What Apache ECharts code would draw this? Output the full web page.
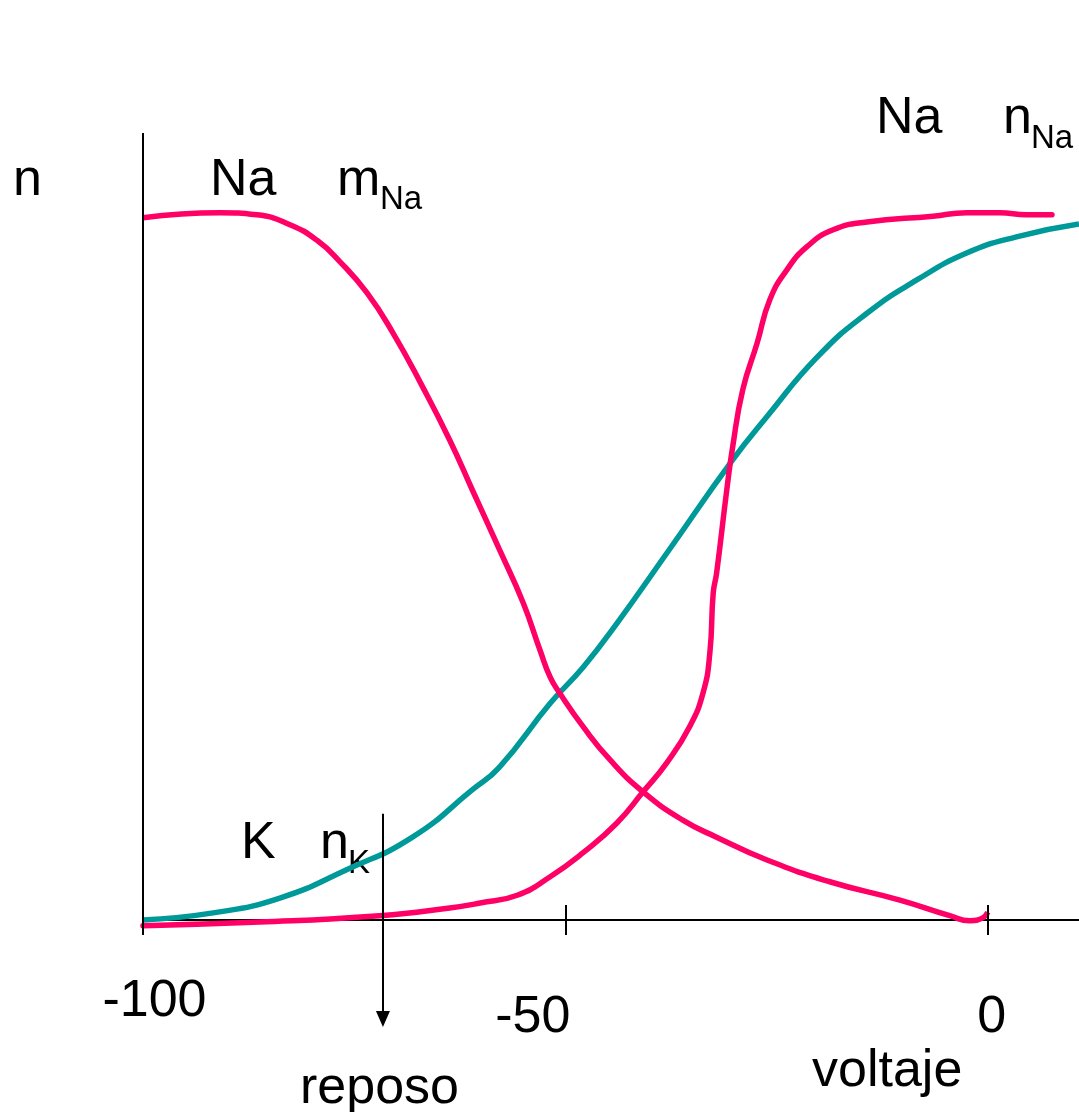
<!DOCTYPE html>
<html>
<head>
<meta charset="utf-8">
<title>n vs voltaje</title>
<script src="https://cdn.jsdelivr.net/npm/echarts@6/dist/echarts.min.js"></script>
<style>
  html, body { margin: 0; padding: 0; background: #fff; }
  #chart { width: 1079px; height: 1112px; }
</style>
</head>
<body>
<div id="chart"></div>
<script>
// valores: voltaje en mV, n entre 0 y 1
var mNaV = [-100, -90.9, -86.5, -82.6, -79.4, -76.7, -73.5, -70.4, -66.9, -63.7, -61.0, -57.8, -55.0, -53.0, -51.8, -50.7, -47.9, -44.7, -40.8, -36.1, -32.1, -26.2, -18.7, -10.4, -4.5, -2.1, -0.6, 0];
var mNaN = [0.992, 0.999, 0.996, 0.982, 0.960, 0.930, 0.886, 0.829, 0.753, 0.678, 0.607, 0.523, 0.448, 0.381, 0.343, 0.321, 0.273, 0.226, 0.181, 0.141, 0.117, 0.085, 0.054, 0.028, 0.006, -0.001, 0.003, 0.011];

var nNaV = [-100, -86.2, -72.0, -63.7, -60.1, -55.7, -51.8, -47.9, -43.9, -40.8, -38.0, -35.3, -33.7, -32.9, -32.5, -32.1, -30.9, -30.2, -29.0, -27.3, -25.8, -23.8, -21.4, -18.3, -14.3, -6.5, -2.5, 1.4, 4.6, 7.6];
var nNaN = [-0.008, -0.003, 0.006, 0.017, 0.024, 0.035, 0.061, 0.095, 0.137, 0.181, 0.222, 0.273, 0.321, 0.377, 0.462, 0.490, 0.607, 0.668, 0.749, 0.815, 0.876, 0.918, 0.951, 0.975, 0.986, 0.994, 0.999, 0.999, 0.996, 0.996];

var nKV = [-100, -91.7, -83.8, -75.9, -68.1, -61.0, -57.8, -51.8, -47.9, -43.9, -38.0, -30.2, -26.2, -20.2, -14.3, -8.4, -2.5, 3.4, 10.8];
var nKN = [0, 0.010, 0.031, 0.071, 0.117, 0.184, 0.216, 0.306, 0.357, 0.419, 0.518, 0.650, 0.710, 0.795, 0.857, 0.904, 0.942, 0.965, 0.983];

var tickLabels = [-100, -50, 0];
var reposo = -71.6;

var PINK = "#ff0066";
var TEAL = "#009999";
var FONT = '"Liberation Sans", Arial, sans-serif';

function zip(xs, ys) {
  return xs.map(function (x, i) { return [x, ys[i]]; });
}

var yMin = -0.1554, yMax = 1.1116;
var tickH = 0.0212;

// ejes dibujados a mano: eje y, marcas del eje x y la flecha de reposo
var guideLines = [[{ coord: [tickLabels[0], -tickH] }, { coord: [tickLabels[0], yMax] }]];
tickLabels.slice(1).forEach(function (v) {
  guideLines.push([{ coord: [v, -tickH] }, { coord: [v, tickH] }]);
});
guideLines.push([
  { coord: [reposo, 0.150] },
  { coord: [reposo, -0.140], symbol: "triangle", symbolSize: [14, 16] }
]);

var chart = echarts.init(document.getElementById("chart"));

var option = {
  animation: false,
  backgroundColor: "#fff",
  grid: { left: 143, right: 0, top: 133, bottom: 82, outerBoundsMode: "none" },
  xAxis: {
    type: "value",
    min: -100,
    max: 10.8,
    interval: 50,
    axisLine: { onZero: true, lineStyle: { color: "#000", width: 2 } },
    axisTick: { show: false },
    splitLine: { show: false },
    axisLabel: {
      margin: -54,
      formatter: function (v) {
        if (v === -100) return "{lo|-100}";
        if (v === -50) return "{mid|-50}";
        if (v === 0) return "{zero|0}";
        return "";
      },
      rich: {
        lo: { fontSize: 52, fontFamily: FONT, color: "#000", padding: [0, 0, 0, 23] },
        mid: { fontSize: 52, fontFamily: FONT, color: "#000", padding: [16, 65, 0, 0] },
        zero: { fontSize: 52, fontFamily: FONT, color: "#000", padding: [16, 0, 0, 8] }
      }
    }
  },
  yAxis: {
    type: "value",
    min: yMin,
    max: yMax,
    axisLine: { show: false },
    axisTick: { show: false },
    axisLabel: { show: false },
    splitLine: { show: false }
  },
  series: [
    {
      name: "nK",
      type: "line",
      data: zip(nKV, nKN),
      smooth: 0.5,
      showSymbol: false,
      lineStyle: { color: TEAL, width: 5.5 },
      markLine: {
        silent: true,
        symbol: ["none", "none"],
        label: { show: false },
        lineStyle: { color: "#000", width: 2, type: "solid" },
        emphasis: { disabled: true },
        data: guideLines
      }
    },
    {
      name: "mNa",
      type: "line",
      data: zip(mNaV, mNaN),
      smooth: 0.5,
      showSymbol: false,
      lineStyle: { color: PINK, width: 5.5 }
    },
    {
      name: "nNa",
      type: "line",
      data: zip(nNaV, nNaN),
      smooth: 0.5,
      showSymbol: false,
      lineStyle: { color: PINK, width: 5.5, cap: "round" }
    }
  ],
  graphic: [
    { type: "text", x: 13, y: 181, style: { text: "n", font: "52px " + FONT, fill: "#000", verticalAlign: "middle" } },
    { type: "text", x: 210, y: 181, style: { text: "Na", font: "52px " + FONT, fill: "#000", verticalAlign: "middle" } },
    { type: "text", x: 337, y: 181, style: { text: "m", font: "52px " + FONT, fill: "#000", verticalAlign: "middle" } },
    { type: "text", x: 380, y: 200, style: { text: "Na", font: "33px " + FONT, fill: "#000", verticalAlign: "middle" } },
    { type: "text", x: 876, y: 119, style: { text: "Na", font: "52px " + FONT, fill: "#000", verticalAlign: "middle" } },
    { type: "text", x: 1003, y: 119, style: { text: "n", font: "52px " + FONT, fill: "#000", verticalAlign: "middle" } },
    { type: "text", x: 1031, y: 138.5, style: { text: "Na", font: "33px " + FONT, fill: "#000", verticalAlign: "middle" } },
    { type: "text", x: 241, y: 844, style: { text: "K", font: "52px " + FONT, fill: "#000", verticalAlign: "middle" } },
    { type: "text", x: 320, y: 844, style: { text: "n", font: "52px " + FONT, fill: "#000", verticalAlign: "middle" } },
    { type: "text", x: 348, y: 863.5, style: { text: "K", font: "33px " + FONT, fill: "#000", verticalAlign: "middle" } },
    { type: "text", x: 300, y: 1089, style: { text: "reposo", font: "52px " + FONT, fill: "#000", verticalAlign: "middle" } },
    { type: "text", x: 812, y: 1072, style: { text: "voltaje", font: "52px " + FONT, fill: "#000", verticalAlign: "middle" } }
  ]
};

chart.setOption(option);
window.onresize = function () {
  chart.resize();
};
</script>
</body>
</html>
